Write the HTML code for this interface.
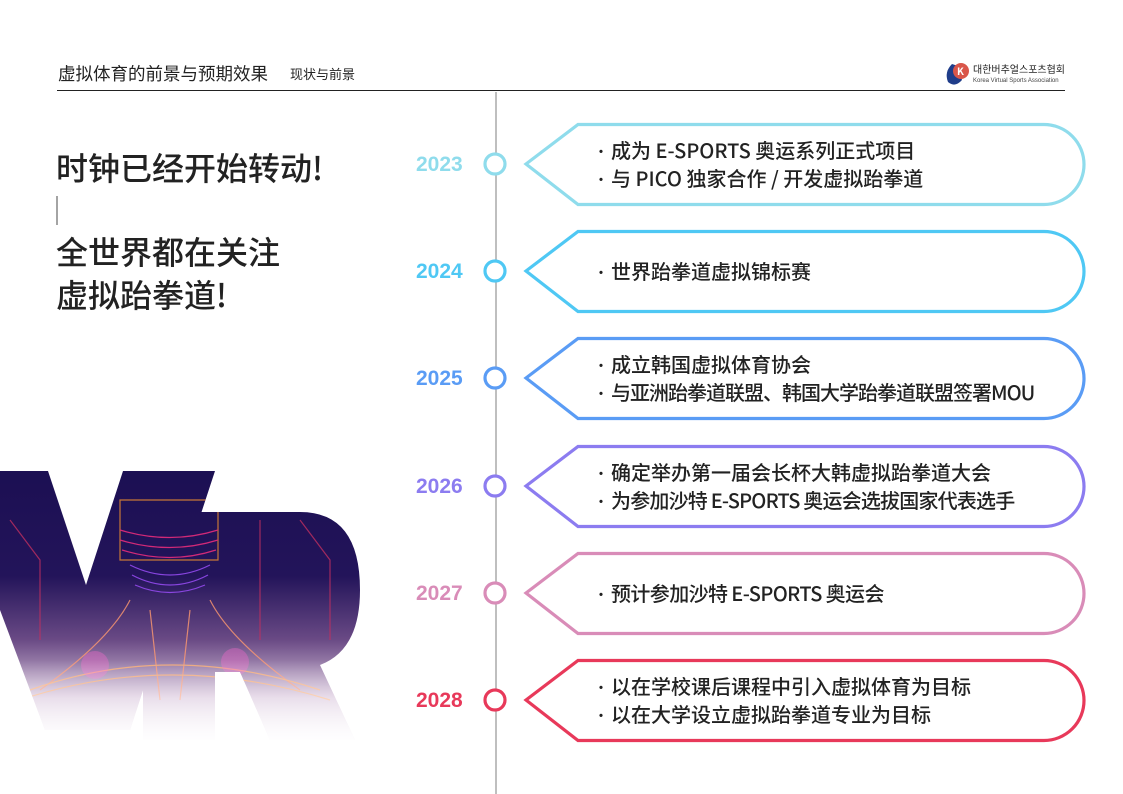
<!DOCTYPE html>
<html><head><meta charset="utf-8"><style>
html,body{margin:0;padding:0;background:#fff;}
svg{display:block;font-family:"Noto Sans CJK SC","Liberation Sans",sans-serif;}
</style></head><body>
<svg width="1123" height="794" viewBox="0 0 1123 794" xmlns="http://www.w3.org/2000/svg">
<defs>
<linearGradient id="vg" x1="0" y1="0" x2="0" y2="1" gradientUnits="objectBoundingBox">
<stop offset="0" stop-color="#1b0f52"/><stop offset="0.4" stop-color="#23145a"/>
<stop offset="0.62" stop-color="#6a4a85"/><stop offset="0.82" stop-color="#d9c6dc"/><stop offset="1" stop-color="#ffffff"/>
</linearGradient>
<linearGradient id="fade" x1="0" y1="0" x2="0" y2="1">
<stop offset="0" stop-color="#fff" stop-opacity="0"/><stop offset="1" stop-color="#fff" stop-opacity="1"/>
</linearGradient>
<clipPath id="vr">
<path d="M0 471 L48 471 L86 585 L123 471 L215 471 L130 730 L45 730 L0 610 Z"/>
<path d="M143 512 L300 512 Q360 512 360 590 Q360 650 320 665 L355 740 L270 740 L240 672 L215 672 L215 740 L143 740 Z"/>
</clipPath>
</defs>
<!-- header -->
<text x="58" y="80" font-size="17.5" fill="#222">虚拟体育的前景与预期效果</text>
<text x="290" y="79" font-size="13" fill="#222">现状与前景</text>
<line x1="57" y1="90.5" x2="1065" y2="90.5" stroke="#222" stroke-width="1"/>
<path d="M952 64 Q944 72 948 82 Q955 88 962 80 L958 66 Z" fill="#1f3d8a"/>
<circle cx="961" cy="71" r="8" fill="#d9564a"/>
<text x="957" y="75" font-size="10" fill="#fff" font-weight="bold">K</text>
<text x="973" y="73" font-size="10" fill="#222">대한버추얼스포츠협회</text>
<text x="973" y="82" font-size="6" fill="#444" font-family="Liberation Sans">Korea Virtual Sports Association</text>
<!-- left heading -->
<text x="56" y="180" font-size="32" font-weight="500" fill="#222">时钟已经开始转动!</text>
<line x1="57" y1="196" x2="57" y2="225" stroke="#666" stroke-width="1.2"/>
<text x="56" y="264" font-size="32" font-weight="500" fill="#222">全世界都在关注</text>
<text x="56" y="307" font-size="32" font-weight="500" fill="#222">虚拟跆拳道!</text>
<!-- VR art -->
<g clip-path="url(#vr)">
<rect x="0" y="460" width="370" height="290" fill="url(#vg)"/>
<g fill="none" stroke-width="1.2" opacity="0.8">
<path d="M120 500 L218 500 L218 560 L120 560 Z" stroke="#f09030"/>
<path d="M120 530 Q170 545 218 530 M120 540 Q170 555 218 540 M122 550 Q170 565 216 550" stroke="#ff3080"/>
<path d="M130 565 Q170 585 210 565 M132 575 Q170 595 208 575 M135 585 Q170 600 205 585" stroke="#a050ff"/>
<path d="M130 600 Q110 640 40 690 M210 600 Q230 640 300 690 M150 610 L160 700 M190 610 L180 700" stroke="#ff9a70"/>
<path d="M20 700 Q170 650 330 700 M30 690 Q170 640 320 690" stroke="#ffb070"/>
<path d="M10 520 L40 560 L40 640 M300 520 L330 560 L330 640 M260 520 L260 640" stroke="#c03060"/>
</g>
<circle cx="95" cy="665" r="14" fill="#ff6ad0" opacity="0.35"/>
<circle cx="235" cy="662" r="14" fill="#ff6ad0" opacity="0.35"/>
<rect x="0" y="660" width="370" height="90" fill="url(#fade)"/>
</g>
<!-- timeline -->
<line x1="496" y1="92" x2="496" y2="794" stroke="#aaa" stroke-width="1.5"/>
<g font-size="21" font-weight="bold" font-family="Liberation Sans">
<text x="416" y="171" fill="#8fdcec">2023</text>
<text x="416" y="278" fill="#4fc8f4">2024</text>
<text x="416" y="385" fill="#5a9cf5">2025</text>
<text x="416" y="493" fill="#8c7cf0">2026</text>
<text x="416" y="600" fill="#d98cb8">2027</text>
<text x="416" y="707" fill="#e8395a">2028</text>
</g>
<g fill="#fff" stroke-width="3.2">
<circle cx="495" cy="164" r="10" stroke="#8fdcec"/>
<circle cx="495" cy="271" r="10" stroke="#4fc8f4"/>
<circle cx="495" cy="378" r="10" stroke="#5a9cf5"/>
<circle cx="495" cy="486" r="10" stroke="#8c7cf0"/>
<circle cx="495" cy="593" r="10" stroke="#d98cb8"/>
<circle cx="495" cy="700" r="10" stroke="#e8395a"/>
</g>
<g fill="none" stroke-width="3.2">
<path d="M526 164 L578 124.5 L1044 124.5 A40 40 0 0 1 1044 204.5 L578 204.5 Z" stroke="#8fdcec"/>
<path d="M526 271 L578 231.5 L1044 231.5 A40 40 0 0 1 1044 311.5 L578 311.5 Z" stroke="#4fc8f4"/>
<path d="M526 378 L578 338.5 L1044 338.5 A40 40 0 0 1 1044 418.5 L578 418.5 Z" stroke="#5a9cf5"/>
<path d="M526 486 L578 446.5 L1044 446.5 A40 40 0 0 1 1044 526.5 L578 526.5 Z" stroke="#8c7cf0"/>
<path d="M526 593 L578 553.5 L1044 553.5 A40 40 0 0 1 1044 633.5 L578 633.5 Z" stroke="#d98cb8"/>
<path d="M526 700 L578 660.5 L1044 660.5 A40 40 0 0 1 1044 740.5 L578 740.5 Z" stroke="#e8395a"/>
</g>
<g font-size="20" fill="#222" font-weight="500">
<g font-size="14"><text x="594" y="157">•</text><text x="594" y="185">•</text><text x="594" y="278">•</text><text x="594" y="371">•</text><text x="594" y="399">•</text><text x="594" y="479">•</text><text x="594" y="507">•</text><text x="594" y="600">•</text><text x="594" y="693">•</text><text x="594" y="721">•</text></g>
<text x="611" y="158">成为 E-SPORTS 奥运系列正式项目</text>
<text x="611" y="186">与 PICO 独家合作 / 开发虚拟跆拳道</text>
<text x="611" y="279">世界跆拳道虚拟锦标赛</text>
<text x="611" y="372">成立韩国虚拟体育协会</text>
<text x="611" y="400" letter-spacing="-1">与亚洲跆拳道联盟、韩国大学跆拳道联盟签署MOU</text>
<text x="611" y="480">确定举办第一届会长杯大韩虚拟跆拳道大会</text>
<text x="611" y="508" letter-spacing="-0.8">为参加沙特 E-SPORTS 奥运会选拔国家代表选手</text>
<text x="611" y="601" letter-spacing="-0.6">预计参加沙特 E-SPORTS 奥运会</text>
<text x="611" y="694">以在学校课后课程中引入虚拟体育为目标</text>
<text x="611" y="722">以在大学设立虚拟跆拳道专业为目标</text>
</g>
</svg>
</body></html>
